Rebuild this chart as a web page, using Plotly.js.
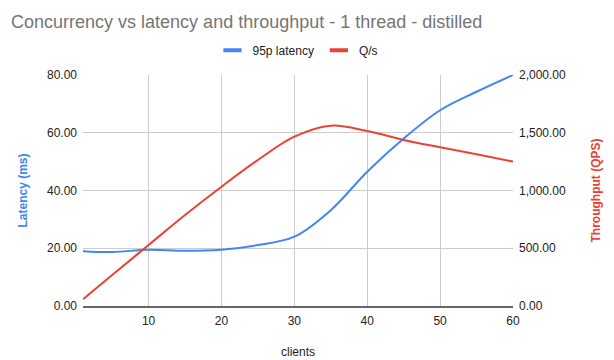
<!DOCTYPE html>
<html><head><meta charset="utf-8">
<script src="https://cdn.plot.ly/plotly-3.0.1.min.js"></script>
<style>html,body{margin:0;padding:0;background:#fff}#chart{width:614px;height:360px}</style>
</head><body><div id="chart"></div>
<script>
const clients = [1, 5, 10, 15, 20, 25, 30, 35, 40, 45, 50, 55, 60];
const latency95p = [19.0, 18.7, 19.5, 19.1, 19.5, 21.1, 24.0, 33.2, 46.5, 58.0, 67.8, 74.2, 80.0];
const qps = [58, 268, 528, 788, 1033, 1264, 1466, 1561, 1515, 1438, 1374, 1313, 1250];
const xTicks = [10, 20, 30, 40, 50, 60];
const seriesNames = ['95p latency', 'Q/s'];
const seriesColors = ['#4285f4', '#ea4335'];

const font = "Liberation Sans, Arial, sans-serif";
const traces = [
  {x: clients, y: latency95p, name: seriesNames[0], type: 'scatter', mode: 'lines', showlegend: false,
   line: {color: seriesColors[0], width: 2, shape: 'spline', smoothing: 1}, yaxis: 'y'},
  {x: clients, y: qps, name: seriesNames[1], type: 'scatter', mode: 'lines', showlegend: false,
   line: {color: seriesColors[1], width: 2, shape: 'spline', smoothing: 1}, yaxis: 'y2'}
];
seriesNames.forEach((n, i) => traces.push({
  x: [null], y: [null], name: n, type: 'scatter', mode: 'markers', showlegend: true,
  marker: {symbol: 'line-ew', size: 13, line: {color: seriesColors[i], width: 4}}
}));
const layout = {
  width: 614, height: 360,
  margin: {l: 83, r: 101, t: 75, b: 54},
  paper_bgcolor: '#fff', plot_bgcolor: '#fff',
  font: {family: font, size: 12, color: '#222'},
  title: {text: 'Concurrency vs latency and throughput - 1 thread - distilled',
    x: 0.018, xanchor: 'left', y: 0.94, yanchor: 'middle',
    font: {family: font, size: 18, color: '#757575'}},
  showlegend: true,
  legend: {orientation: 'h', x: 0.5, xanchor: 'center', y: 1.107, yanchor: 'middle',
    itemwidth: 30, font: {family: font, size: 12, color: '#222'}},
  xaxis: {range: [1, 60], tickvals: xTicks, ticktext: xTicks.map(String),
    showgrid: true, gridcolor: '#cccccc', zeroline: false, showline: true,
    linecolor: '#666', linewidth: 2, ticks: '', tickfont: {size: 12, color: '#222'},
    ticklabelstandoff: 3,
    title: {text: 'clients', font: {size: 12, color: '#222'}, standoff: 20}},
  yaxis: {range: [0, 80], tickvals: [0, 20, 40, 60, 80], tickformat: ',.2f',
    showgrid: true, gridcolor: '#cccccc', zeroline: false, showline: false, ticks: '',
    tickfont: {size: 12, color: '#222'}, ticklabelstandoff: 5,
    title: {text: '<b>Latency (ms)</b>', font: {size: 12, color: '#4285f4'}, standoff: 16}},
  yaxis2: {range: [0, 2000], tickvals: [0, 500, 1000, 1500, 2000], tickformat: ',.2f',
    overlaying: 'y', side: 'right', showgrid: false, zeroline: false, showline: false, ticks: '',
    tickfont: {size: 12, color: '#222'}, ticklabelstandoff: 5,
    title: {text: '<b>Throughput (QPS)</b>', font: {size: 12, color: '#ea4335'}, standoff: 26}}
};
Plotly.newPlot('chart', traces, layout, {staticPlot: true, displayModeBar: false});
</script></body></html>
